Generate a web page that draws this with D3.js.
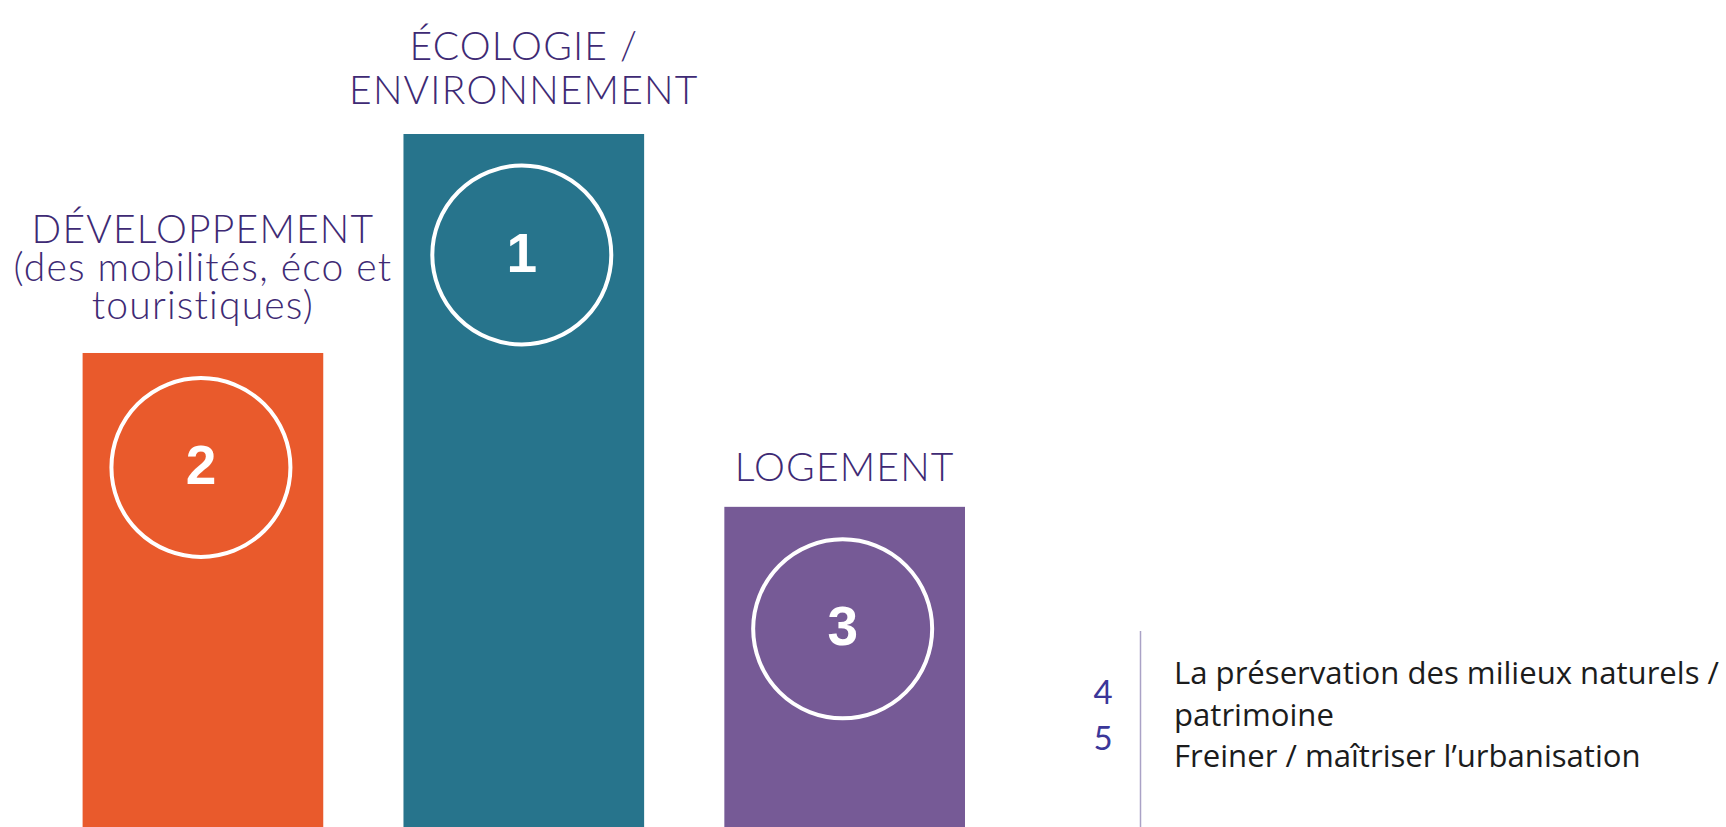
<!DOCTYPE html>
<html>
<head>
<meta charset="utf-8">
<script src="https://cdn.jsdelivr.net/npm/d3@7"></script>
<style>
  html, body { margin: 0; padding: 0; background: #fff; }
  svg { display: block; }
</style>
</head>
<body>
<div id="chart"></div>
<script>
// bars, left to right
var themes = ['developpement', 'ecologie', 'logement'];
var ranks = [2, 1, 3];
var scores = [68.4, 100, 46.2];
var labelLines = [
  ['DÉVELOPPEMENT', '(des mobilités, éco et', 'touristiques)'],
  ['ÉCOLOGIE /', 'ENVIRONNEMENT'],
  ['LOGEMENT']
];
var barColors = ['#e95a2c', '#27748c', '#765a96'];

// the rest of the ranking, as a side list
var otherRanks = [4, 5];
var otherLines = ['La préservation des milieux naturels /', 'patrimoine', 'Freiner / maîtriser l’urbanisation'];

(function() {
  var width = 1726, height = 827;
  var svg, x, y, bars, labelGap, lineGap, circleDrop, cx, cy, side, lines, ratio;

  svg = d3.select('#chart').append('svg').attr('width', width).attr('height', height);

  x = d3.scaleBand().domain(themes).range([82.6, 965]).paddingInner(0.25).paddingOuter(0);
  y = d3.scaleLinear().domain([0, 100]).range([height, 134]);

  labelGap = [34, 30, 26];
  lineGap = [38, 44, 44];
  circleDrop = [114.5, 121, 122];

  cx = function(d) { return x(d) + x.bandwidth() / 2 - 2; };
  cy = function(d, i) { return y(scores[i]) + circleDrop[i]; };

  bars = svg.selectAll('g.bar').data(themes).enter().append('g').attr('class', 'bar');

  bars.append('rect')
    .attr('x', function(d) { return x(d); })
    .attr('y', function(d, i) { return y(scores[i]); })
    .attr('width', x.bandwidth())
    .attr('height', function(d, i) { return height - y(scores[i]); })
    .style('fill', function(d, i) { return barColors[i]; });

  bars.append('circle')
    .attr('cx', cx)
    .attr('cy', cy)
    .attr('r', 89.5)
    .style('fill', 'none')
    .style('stroke', '#fff')
    .style('stroke-width', 4);

  bars.append('text')
    .attr('x', cx)
    .attr('y', function(d, i) { return cy(d, i) + 16.5; })
    .attr('text-anchor', 'middle')
    .style('font-family', '"Liberation Sans", Arial, sans-serif')
    .style('font-weight', 'bold')
    .style('font-size', '55px')
    .style('fill', '#fff')
    .text(function(d, i) { return ranks[i]; });

  // one text per label, lines as tspans
  bars.append('text')
    .attr('class', 'label')
    .attr('text-anchor', 'middle')
    .style('font-family', 'Lato, sans-serif')
    .style('font-weight', 300)
    .style('font-size', '39px')
    .style('letter-spacing', '1.2px')
    .style('fill', '#3e2a74')
    .each(function(d, i) {
      var n = labelLines[i].length;
      d3.select(this).selectAll('tspan').data(labelLines[i]).enter().append('tspan')
        .attr('x', x(d) + x.bandwidth() / 2)
        .attr('y', function(t, j) { return y(scores[i]) - labelGap[i] - (n - 1 - j) * lineGap[i]; })
        .text(function(t) { return t; });
    });

  // side list
  side = svg.append('g').attr('class', 'side');
  side.append('line')
    .attr('x1', 1140.5).attr('x2', 1140.5)
    .attr('y1', 631).attr('y2', height)
    .style('stroke', '#aaa2c6')
    .style('stroke-width', 1.5);

  side.selectAll('text.rank').data(otherRanks).enter().append('text')
    .attr('class', 'rank')
    .attr('x', 1103)
    .attr('y', function(d, i) { return 704 + i * 46; })
    .attr('text-anchor', 'middle')
    .style('font-family', 'Lato, sans-serif')
    .style('font-weight', 400)
    .style('font-size', '33px')
    .style('fill', '#3b3799')
    .text(function(d) { return d; });

  lines = side.selectAll('text.item').data(otherLines).enter().append('text')
    .attr('class', 'item')
    .attr('x', 1174)
    .attr('y', function(d, i) { return 684 + i * 41.5; })
    .style('font-family', '"Open Sans", sans-serif')
    .style('font-size', '31px')
    .style('fill', '#1c1c1c')
    .text(function(d) { return d; });

  // squeeze to the narrow face of the original
  ratio = 545 / lines.node().getComputedTextLength();
  lines.each(function() {
    var w = this.getComputedTextLength();
    d3.select(this).attr('textLength', w * ratio).attr('lengthAdjust', 'spacingAndGlyphs');
  });
})();
</script>
</body>
</html>
